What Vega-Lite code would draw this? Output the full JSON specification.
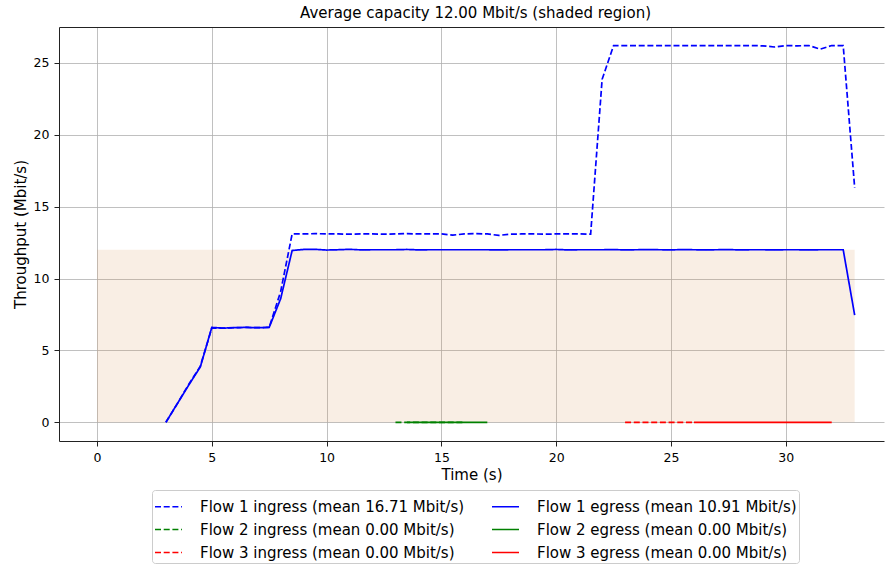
{
  "$schema": "https://vega.github.io/schema/vega-lite/v6.json",
  "width": 825,
  "height": 414,
  "autosize": {"type": "none"},
  "padding": {"left": 59, "top": 27, "right": 1, "bottom": 126},
  "background": "white",
  "title": {"text": "Average capacity 12.00 Mbit/s (shaded region)", "font": "DejaVu Sans", "fontSize": 15, "fontWeight": "normal", "color": "#000000", "offset": 6, "dx": 4},
  "config": {"view": {"stroke": null}, "font": "DejaVu Sans"},
  "datasets": {
    "capacity": [{"time": 0, "time_end": 33, "v": 0, "v_end": 12}],
    "flows": [
      {"time": 3.0, "v": 0, "series": "Flow 1 ingress (mean 16.71 Mbit/s)"},
      {"time": 3.5, "v": 1.3, "series": "Flow 1 ingress (mean 16.71 Mbit/s)"},
      {"time": 4.0, "v": 2.65, "series": "Flow 1 ingress (mean 16.71 Mbit/s)"},
      {"time": 4.5, "v": 3.9, "series": "Flow 1 ingress (mean 16.71 Mbit/s)"},
      {"time": 5.0, "v": 6.55, "series": "Flow 1 ingress (mean 16.71 Mbit/s)"},
      {"time": 5.5, "v": 6.55, "series": "Flow 1 ingress (mean 16.71 Mbit/s)"},
      {"time": 6.0, "v": 6.58, "series": "Flow 1 ingress (mean 16.71 Mbit/s)"},
      {"time": 6.5, "v": 6.6, "series": "Flow 1 ingress (mean 16.71 Mbit/s)"},
      {"time": 7.0, "v": 6.58, "series": "Flow 1 ingress (mean 16.71 Mbit/s)"},
      {"time": 7.5, "v": 6.6, "series": "Flow 1 ingress (mean 16.71 Mbit/s)"},
      {"time": 8.0, "v": 9.1, "series": "Flow 1 ingress (mean 16.71 Mbit/s)"},
      {"time": 8.5, "v": 13.1, "series": "Flow 1 ingress (mean 16.71 Mbit/s)"},
      {"time": 9.0, "v": 13.1, "series": "Flow 1 ingress (mean 16.71 Mbit/s)"},
      {"time": 9.5, "v": 13.12, "series": "Flow 1 ingress (mean 16.71 Mbit/s)"},
      {"time": 10.0, "v": 13.1, "series": "Flow 1 ingress (mean 16.71 Mbit/s)"},
      {"time": 10.5, "v": 13.1, "series": "Flow 1 ingress (mean 16.71 Mbit/s)"},
      {"time": 11.0, "v": 13.08, "series": "Flow 1 ingress (mean 16.71 Mbit/s)"},
      {"time": 11.5, "v": 13.1, "series": "Flow 1 ingress (mean 16.71 Mbit/s)"},
      {"time": 12.0, "v": 13.1, "series": "Flow 1 ingress (mean 16.71 Mbit/s)"},
      {"time": 12.5, "v": 13.08, "series": "Flow 1 ingress (mean 16.71 Mbit/s)"},
      {"time": 13.0, "v": 13.1, "series": "Flow 1 ingress (mean 16.71 Mbit/s)"},
      {"time": 13.5, "v": 13.12, "series": "Flow 1 ingress (mean 16.71 Mbit/s)"},
      {"time": 14.0, "v": 13.1, "series": "Flow 1 ingress (mean 16.71 Mbit/s)"},
      {"time": 14.5, "v": 13.1, "series": "Flow 1 ingress (mean 16.71 Mbit/s)"},
      {"time": 15.0, "v": 13.1, "series": "Flow 1 ingress (mean 16.71 Mbit/s)"},
      {"time": 15.5, "v": 13.02, "series": "Flow 1 ingress (mean 16.71 Mbit/s)"},
      {"time": 16.0, "v": 13.1, "series": "Flow 1 ingress (mean 16.71 Mbit/s)"},
      {"time": 16.5, "v": 13.12, "series": "Flow 1 ingress (mean 16.71 Mbit/s)"},
      {"time": 17.0, "v": 13.1, "series": "Flow 1 ingress (mean 16.71 Mbit/s)"},
      {"time": 17.5, "v": 13.0, "series": "Flow 1 ingress (mean 16.71 Mbit/s)"},
      {"time": 18.0, "v": 13.08, "series": "Flow 1 ingress (mean 16.71 Mbit/s)"},
      {"time": 18.5, "v": 13.1, "series": "Flow 1 ingress (mean 16.71 Mbit/s)"},
      {"time": 19.0, "v": 13.1, "series": "Flow 1 ingress (mean 16.71 Mbit/s)"},
      {"time": 19.5, "v": 13.08, "series": "Flow 1 ingress (mean 16.71 Mbit/s)"},
      {"time": 20.0, "v": 13.1, "series": "Flow 1 ingress (mean 16.71 Mbit/s)"},
      {"time": 20.5, "v": 13.1, "series": "Flow 1 ingress (mean 16.71 Mbit/s)"},
      {"time": 21.0, "v": 13.1, "series": "Flow 1 ingress (mean 16.71 Mbit/s)"},
      {"time": 21.5, "v": 13.08, "series": "Flow 1 ingress (mean 16.71 Mbit/s)"},
      {"time": 22.0, "v": 23.85, "series": "Flow 1 ingress (mean 16.71 Mbit/s)"},
      {"time": 22.5, "v": 26.2, "series": "Flow 1 ingress (mean 16.71 Mbit/s)"},
      {"time": 23.0, "v": 26.2, "series": "Flow 1 ingress (mean 16.71 Mbit/s)"},
      {"time": 23.5, "v": 26.2, "series": "Flow 1 ingress (mean 16.71 Mbit/s)"},
      {"time": 24.0, "v": 26.2, "series": "Flow 1 ingress (mean 16.71 Mbit/s)"},
      {"time": 24.5, "v": 26.2, "series": "Flow 1 ingress (mean 16.71 Mbit/s)"},
      {"time": 25.0, "v": 26.2, "series": "Flow 1 ingress (mean 16.71 Mbit/s)"},
      {"time": 25.5, "v": 26.2, "series": "Flow 1 ingress (mean 16.71 Mbit/s)"},
      {"time": 26.0, "v": 26.2, "series": "Flow 1 ingress (mean 16.71 Mbit/s)"},
      {"time": 26.5, "v": 26.2, "series": "Flow 1 ingress (mean 16.71 Mbit/s)"},
      {"time": 27.0, "v": 26.2, "series": "Flow 1 ingress (mean 16.71 Mbit/s)"},
      {"time": 27.5, "v": 26.2, "series": "Flow 1 ingress (mean 16.71 Mbit/s)"},
      {"time": 28.0, "v": 26.2, "series": "Flow 1 ingress (mean 16.71 Mbit/s)"},
      {"time": 28.5, "v": 26.2, "series": "Flow 1 ingress (mean 16.71 Mbit/s)"},
      {"time": 29.0, "v": 26.18, "series": "Flow 1 ingress (mean 16.71 Mbit/s)"},
      {"time": 29.5, "v": 26.1, "series": "Flow 1 ingress (mean 16.71 Mbit/s)"},
      {"time": 30.0, "v": 26.2, "series": "Flow 1 ingress (mean 16.71 Mbit/s)"},
      {"time": 30.5, "v": 26.18, "series": "Flow 1 ingress (mean 16.71 Mbit/s)"},
      {"time": 31.0, "v": 26.2, "series": "Flow 1 ingress (mean 16.71 Mbit/s)"},
      {"time": 31.5, "v": 25.95, "series": "Flow 1 ingress (mean 16.71 Mbit/s)"},
      {"time": 32.0, "v": 26.2, "series": "Flow 1 ingress (mean 16.71 Mbit/s)"},
      {"time": 32.5, "v": 26.2, "series": "Flow 1 ingress (mean 16.71 Mbit/s)"},
      {"time": 33.0, "v": 16.3, "series": "Flow 1 ingress (mean 16.71 Mbit/s)"},
      {"time": 13.0, "v": 0, "series": "Flow 2 ingress (mean 0.00 Mbit/s)"},
      {"time": 13.5, "v": 0, "series": "Flow 2 ingress (mean 0.00 Mbit/s)"},
      {"time": 14.0, "v": 0, "series": "Flow 2 ingress (mean 0.00 Mbit/s)"},
      {"time": 14.5, "v": 0, "series": "Flow 2 ingress (mean 0.00 Mbit/s)"},
      {"time": 15.0, "v": 0, "series": "Flow 2 ingress (mean 0.00 Mbit/s)"},
      {"time": 15.5, "v": 0, "series": "Flow 2 ingress (mean 0.00 Mbit/s)"},
      {"time": 16.0, "v": 0, "series": "Flow 2 ingress (mean 0.00 Mbit/s)"},
      {"time": 23.0, "v": 0, "series": "Flow 3 ingress (mean 0.00 Mbit/s)"},
      {"time": 23.5, "v": 0, "series": "Flow 3 ingress (mean 0.00 Mbit/s)"},
      {"time": 24.0, "v": 0, "series": "Flow 3 ingress (mean 0.00 Mbit/s)"},
      {"time": 24.5, "v": 0, "series": "Flow 3 ingress (mean 0.00 Mbit/s)"},
      {"time": 25.0, "v": 0, "series": "Flow 3 ingress (mean 0.00 Mbit/s)"},
      {"time": 25.5, "v": 0, "series": "Flow 3 ingress (mean 0.00 Mbit/s)"},
      {"time": 26.0, "v": 0, "series": "Flow 3 ingress (mean 0.00 Mbit/s)"},
      {"time": 3.0, "v": 0, "series": "Flow 1 egress (mean 10.91 Mbit/s)"},
      {"time": 3.5, "v": 1.3, "series": "Flow 1 egress (mean 10.91 Mbit/s)"},
      {"time": 4.0, "v": 2.6, "series": "Flow 1 egress (mean 10.91 Mbit/s)"},
      {"time": 4.5, "v": 3.85, "series": "Flow 1 egress (mean 10.91 Mbit/s)"},
      {"time": 5.0, "v": 6.6, "series": "Flow 1 egress (mean 10.91 Mbit/s)"},
      {"time": 5.5, "v": 6.55, "series": "Flow 1 egress (mean 10.91 Mbit/s)"},
      {"time": 6.0, "v": 6.58, "series": "Flow 1 egress (mean 10.91 Mbit/s)"},
      {"time": 6.5, "v": 6.6, "series": "Flow 1 egress (mean 10.91 Mbit/s)"},
      {"time": 7.0, "v": 6.58, "series": "Flow 1 egress (mean 10.91 Mbit/s)"},
      {"time": 7.5, "v": 6.6, "series": "Flow 1 egress (mean 10.91 Mbit/s)"},
      {"time": 8.0, "v": 8.6, "series": "Flow 1 egress (mean 10.91 Mbit/s)"},
      {"time": 8.5, "v": 11.95, "series": "Flow 1 egress (mean 10.91 Mbit/s)"},
      {"time": 9.0, "v": 12.02, "series": "Flow 1 egress (mean 10.91 Mbit/s)"},
      {"time": 9.5, "v": 12.03, "series": "Flow 1 egress (mean 10.91 Mbit/s)"},
      {"time": 10.0, "v": 11.98, "series": "Flow 1 egress (mean 10.91 Mbit/s)"},
      {"time": 10.5, "v": 12.0, "series": "Flow 1 egress (mean 10.91 Mbit/s)"},
      {"time": 11.0, "v": 12.03, "series": "Flow 1 egress (mean 10.91 Mbit/s)"},
      {"time": 11.5, "v": 11.99, "series": "Flow 1 egress (mean 10.91 Mbit/s)"},
      {"time": 12.0, "v": 12.0, "series": "Flow 1 egress (mean 10.91 Mbit/s)"},
      {"time": 12.5, "v": 12.0, "series": "Flow 1 egress (mean 10.91 Mbit/s)"},
      {"time": 13.0, "v": 12.0, "series": "Flow 1 egress (mean 10.91 Mbit/s)"},
      {"time": 13.5, "v": 12.02, "series": "Flow 1 egress (mean 10.91 Mbit/s)"},
      {"time": 14.0, "v": 11.99, "series": "Flow 1 egress (mean 10.91 Mbit/s)"},
      {"time": 14.5, "v": 12.0, "series": "Flow 1 egress (mean 10.91 Mbit/s)"},
      {"time": 15.0, "v": 12.0, "series": "Flow 1 egress (mean 10.91 Mbit/s)"},
      {"time": 15.5, "v": 12.0, "series": "Flow 1 egress (mean 10.91 Mbit/s)"},
      {"time": 16.0, "v": 12.0, "series": "Flow 1 egress (mean 10.91 Mbit/s)"},
      {"time": 16.5, "v": 12.0, "series": "Flow 1 egress (mean 10.91 Mbit/s)"},
      {"time": 17.0, "v": 12.0, "series": "Flow 1 egress (mean 10.91 Mbit/s)"},
      {"time": 17.5, "v": 11.99, "series": "Flow 1 egress (mean 10.91 Mbit/s)"},
      {"time": 18.0, "v": 12.0, "series": "Flow 1 egress (mean 10.91 Mbit/s)"},
      {"time": 18.5, "v": 12.0, "series": "Flow 1 egress (mean 10.91 Mbit/s)"},
      {"time": 19.0, "v": 12.0, "series": "Flow 1 egress (mean 10.91 Mbit/s)"},
      {"time": 19.5, "v": 12.0, "series": "Flow 1 egress (mean 10.91 Mbit/s)"},
      {"time": 20.0, "v": 12.02, "series": "Flow 1 egress (mean 10.91 Mbit/s)"},
      {"time": 20.5, "v": 11.99, "series": "Flow 1 egress (mean 10.91 Mbit/s)"},
      {"time": 21.0, "v": 12.0, "series": "Flow 1 egress (mean 10.91 Mbit/s)"},
      {"time": 21.5, "v": 12.0, "series": "Flow 1 egress (mean 10.91 Mbit/s)"},
      {"time": 22.0, "v": 12.0, "series": "Flow 1 egress (mean 10.91 Mbit/s)"},
      {"time": 22.5, "v": 12.01, "series": "Flow 1 egress (mean 10.91 Mbit/s)"},
      {"time": 23.0, "v": 11.99, "series": "Flow 1 egress (mean 10.91 Mbit/s)"},
      {"time": 23.5, "v": 12.0, "series": "Flow 1 egress (mean 10.91 Mbit/s)"},
      {"time": 24.0, "v": 12.01, "series": "Flow 1 egress (mean 10.91 Mbit/s)"},
      {"time": 24.5, "v": 12.0, "series": "Flow 1 egress (mean 10.91 Mbit/s)"},
      {"time": 25.0, "v": 11.99, "series": "Flow 1 egress (mean 10.91 Mbit/s)"},
      {"time": 25.5, "v": 12.01, "series": "Flow 1 egress (mean 10.91 Mbit/s)"},
      {"time": 26.0, "v": 12.0, "series": "Flow 1 egress (mean 10.91 Mbit/s)"},
      {"time": 26.5, "v": 11.99, "series": "Flow 1 egress (mean 10.91 Mbit/s)"},
      {"time": 27.0, "v": 12.0, "series": "Flow 1 egress (mean 10.91 Mbit/s)"},
      {"time": 27.5, "v": 12.01, "series": "Flow 1 egress (mean 10.91 Mbit/s)"},
      {"time": 28.0, "v": 11.99, "series": "Flow 1 egress (mean 10.91 Mbit/s)"},
      {"time": 28.5, "v": 12.0, "series": "Flow 1 egress (mean 10.91 Mbit/s)"},
      {"time": 29.0, "v": 12.0, "series": "Flow 1 egress (mean 10.91 Mbit/s)"},
      {"time": 29.5, "v": 11.99, "series": "Flow 1 egress (mean 10.91 Mbit/s)"},
      {"time": 30.0, "v": 12.0, "series": "Flow 1 egress (mean 10.91 Mbit/s)"},
      {"time": 30.5, "v": 12.0, "series": "Flow 1 egress (mean 10.91 Mbit/s)"},
      {"time": 31.0, "v": 11.99, "series": "Flow 1 egress (mean 10.91 Mbit/s)"},
      {"time": 31.5, "v": 12.0, "series": "Flow 1 egress (mean 10.91 Mbit/s)"},
      {"time": 32.0, "v": 12.0, "series": "Flow 1 egress (mean 10.91 Mbit/s)"},
      {"time": 32.5, "v": 12.0, "series": "Flow 1 egress (mean 10.91 Mbit/s)"},
      {"time": 33.0, "v": 7.45, "series": "Flow 1 egress (mean 10.91 Mbit/s)"},
      {"time": 13.5, "v": 0, "series": "Flow 2 egress (mean 0.00 Mbit/s)"},
      {"time": 14.0, "v": 0, "series": "Flow 2 egress (mean 0.00 Mbit/s)"},
      {"time": 14.5, "v": 0, "series": "Flow 2 egress (mean 0.00 Mbit/s)"},
      {"time": 15.0, "v": 0, "series": "Flow 2 egress (mean 0.00 Mbit/s)"},
      {"time": 15.5, "v": 0, "series": "Flow 2 egress (mean 0.00 Mbit/s)"},
      {"time": 16.0, "v": 0, "series": "Flow 2 egress (mean 0.00 Mbit/s)"},
      {"time": 16.5, "v": 0, "series": "Flow 2 egress (mean 0.00 Mbit/s)"},
      {"time": 17.0, "v": 0, "series": "Flow 2 egress (mean 0.00 Mbit/s)"},
      {"time": 26.0, "v": 0, "series": "Flow 3 egress (mean 0.00 Mbit/s)"},
      {"time": 26.5, "v": 0, "series": "Flow 3 egress (mean 0.00 Mbit/s)"},
      {"time": 27.0, "v": 0, "series": "Flow 3 egress (mean 0.00 Mbit/s)"},
      {"time": 27.5, "v": 0, "series": "Flow 3 egress (mean 0.00 Mbit/s)"},
      {"time": 28.0, "v": 0, "series": "Flow 3 egress (mean 0.00 Mbit/s)"},
      {"time": 28.5, "v": 0, "series": "Flow 3 egress (mean 0.00 Mbit/s)"},
      {"time": 29.0, "v": 0, "series": "Flow 3 egress (mean 0.00 Mbit/s)"},
      {"time": 29.5, "v": 0, "series": "Flow 3 egress (mean 0.00 Mbit/s)"},
      {"time": 30.0, "v": 0, "series": "Flow 3 egress (mean 0.00 Mbit/s)"},
      {"time": 30.5, "v": 0, "series": "Flow 3 egress (mean 0.00 Mbit/s)"},
      {"time": 31.0, "v": 0, "series": "Flow 3 egress (mean 0.00 Mbit/s)"},
      {"time": 31.5, "v": 0, "series": "Flow 3 egress (mean 0.00 Mbit/s)"},
      {"time": 32.0, "v": 0, "series": "Flow 3 egress (mean 0.00 Mbit/s)"}
    ]
  },
  "layer": [
    {
      "data": {"name": "capacity"},
      "mark": {"type": "rect", "color": "#d78e4b", "opacity": 0.15},
      "encoding": {
        "x": {"field": "time", "type": "quantitative", "scale": {"domain": [-1.655, 34.277], "nice": false, "zero": false},
          "axis": {"orient": "top", "labels": false, "ticks": false, "grid": false, "domain": true, "domainColor": "#222222", "domainWidth": 1, "title": null}},
        "x2": {"field": "time_end"},
        "y": {"field": "v", "type": "quantitative", "scale": {"domain": [-1.3, 27.49], "nice": false, "zero": false}},
        "y2": {"field": "v_end"}
      }
    },
    {
      "data": {"name": "flows"},
      "mark": {"type": "line", "strokeWidth": 1.7},
      "encoding": {
        "x": {"field": "time", "type": "quantitative",
          "axis": {"orient": "bottom", "values": [0, 5, 10, 15, 20, 25, 30], "grid": true, "gridColor": "#b0b0b0", "gridWidth": 0.8, "domainColor": "#222222", "domainWidth": 1, "tickColor": "#222222", "tickSize": 5, "labelPadding": 5, "labelFontSize": 12.5, "labelColor": "#000000", "labelFont": "DejaVu Sans", "labelFlush": false, "title": "Time (s)", "titleFont": "DejaVu Sans", "titleFontSize": 15, "titleFontWeight": "normal", "titlePadding": 4, "titleColor": "#000000"}},
        "y": {"field": "v", "type": "quantitative",
          "axis": {"orient": "left", "values": [0, 5, 10, 15, 20, 25], "grid": true, "gridColor": "#b0b0b0", "gridWidth": 0.8, "domainColor": "#222222", "domainWidth": 1, "tickColor": "#222222", "tickSize": 5, "labelPadding": 5, "labelFontSize": 12.5, "labelColor": "#000000", "labelFont": "DejaVu Sans", "labelFlush": false, "title": "Throughput (Mbit/s)", "titleFont": "DejaVu Sans", "titleFontSize": 15, "titleFontWeight": "normal", "titlePadding": 5, "titleColor": "#000000"}},
        "color": {"field": "series", "type": "nominal",
          "scale": {"domain": ["Flow 1 ingress (mean 16.71 Mbit/s)", "Flow 2 ingress (mean 0.00 Mbit/s)", "Flow 3 ingress (mean 0.00 Mbit/s)", "Flow 1 egress (mean 10.91 Mbit/s)", "Flow 2 egress (mean 0.00 Mbit/s)", "Flow 3 egress (mean 0.00 Mbit/s)"],
            "range": ["#0000ff", "#008000", "#ff0000", "#0000ff", "#008000", "#ff0000"]},
          "legend": {"title": null, "orient": "none", "legendX": 93, "legendY": 463, "columns": 2, "symbolType": "stroke", "symbolSize": 729, "symbolStrokeWidth": 1.7, "labelFontSize": 15, "labelFont": "DejaVu Sans", "labelColor": "#000000", "labelLimit": 400, "labelOffset": 17, "columnPadding": 23, "rowPadding": 0, "padding": 2, "strokeColor": "#cccccc", "fillColor": "white", "cornerRadius": 3}},
        "strokeDash": {"field": "series", "type": "nominal",
          "scale": {"domain": ["Flow 1 ingress (mean 16.71 Mbit/s)", "Flow 2 ingress (mean 0.00 Mbit/s)", "Flow 3 ingress (mean 0.00 Mbit/s)", "Flow 1 egress (mean 10.91 Mbit/s)", "Flow 2 egress (mean 0.00 Mbit/s)", "Flow 3 egress (mean 0.00 Mbit/s)"],
            "range": [[6, 2.7], [6, 2.7], [6, 2.7], [1, 0], [1, 0], [1, 0]]},
          "legend": {"title": null, "orient": "none", "legendX": 93, "legendY": 463, "columns": 2, "symbolType": "stroke", "symbolSize": 729, "symbolStrokeWidth": 1.7, "labelFontSize": 15, "labelFont": "DejaVu Sans", "labelColor": "#000000", "labelLimit": 400, "labelOffset": 17, "columnPadding": 23, "rowPadding": 0, "padding": 2, "strokeColor": "#cccccc", "fillColor": "white", "cornerRadius": 3}}
      }
    }
  ],
  "resolve": {"axis": {"x": "independent"}}
}
